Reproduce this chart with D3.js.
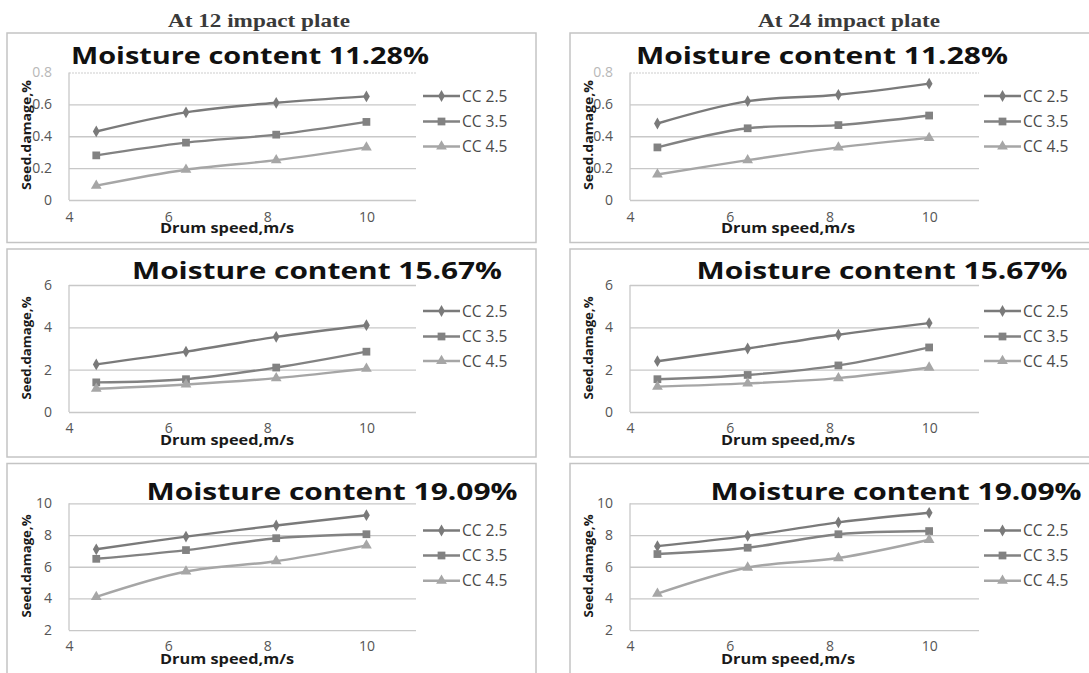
<!DOCTYPE html>
<html>
<head>
<meta charset="utf-8">
<script src="https://cdn.jsdelivr.net/npm/d3@7"></script>
<style>
  body { margin: 0; background: #fff; }
  svg { display: block; }
  text { font-family: "Open Sans", sans-serif; }
</style>
</head>
<body>
<svg width="1089" height="673"></svg>
<script>
// drum speeds (m/s) used on every panel
const speeds = [4.55, 6.36, 8.18, 10];
const seriesNames = ["CC 2.5", "CC 3.5", "CC 4.5"];
const plateTitles = ["At 12 impact plate", "At 24 impact plate"];
const moistureTitles = ["Moisture content 11.28%", "Moisture content 15.67%", "Moisture content 19.09%"];
const xTicks = [4, 6, 8, 10];
const yTicks11 = [0, 0.2, 0.4, 0.6, 0.8];
const yTicks15 = [0, 2, 4, 6];
const yTicks19 = [2, 4, 6, 8, 10];

// seed damage % : rows = CC 2.5, CC 3.5, CC 4.5
const plate12_m11 = [[0.43, 0.55, 0.61, 0.65], [0.28, 0.36, 0.41, 0.49], [0.09, 0.19, 0.25, 0.33]];
const plate24_m11 = [[0.48, 0.62, 0.66, 0.73], [0.33, 0.45, 0.47, 0.53], [0.16, 0.25, 0.33, 0.39]];
const plate12_m15 = [[2.25, 2.85, 3.55, 4.1], [1.4, 1.55, 2.1, 2.85], [1.1, 1.3, 1.6, 2.05]];
const plate24_m15 = [[2.4, 3.0, 3.65, 4.2], [1.55, 1.75, 2.2, 3.05], [1.2, 1.35, 1.6, 2.1]];
const plate12_m19 = [[7.1, 7.9, 8.6, 9.25], [6.5, 7.05, 7.8, 8.05], [4.1, 5.7, 6.35, 7.35]];
const plate24_m19 = [[7.3, 7.95, 8.8, 9.4], [6.8, 7.2, 8.05, 8.25], [4.3, 5.95, 6.55, 7.7]];

const colors = ["#7a7a7a", "#828282", "#a6a6a6"];
const symbols = [d3.symbolDiamond, d3.symbolSquare, d3.symbolTriangle];
const symSize = [40, 60, 50];

// layout of the two columns and three rows
const cols = [
  { x0: 69, x1: 416, box: 7, legX: 423, yLab: 26, header: 259 },
  { x0: 630, x1: 979, box: 570, legX: 984, yLab: 588, header: 849 }
];
const rows = [
  { top: 72.5, bottom: 200, boxTop: 33, boxBottom: 242.5, titleY: 64, legY: [96, 121.5, 146.5], tickY: 226, xTitleY: 233, yLabY: 135, ticks: yTicks11, faintTop: true },
  { top: 285, bottom: 412, boxTop: 249, boxBottom: 457, titleY: 279, legY: [311, 336.5, 361], tickY: 437, xTitleY: 445, yLabY: 348, ticks: yTicks15 },
  { top: 503.3, bottom: 630.2, boxTop: 463.5, boxBottom: 700, titleY: 500, legY: [530.5, 555.5, 580.7], tickY: 655, xTitleY: 663.5, yLabY: 566, ticks: yTicks19 }
];
const titleCenters = [[250, 822], [317, 882], [332, 896]];
const titleWidths = [[358, 372], [370, 371], [371, 371]];

const panels = [
  [plate12_m11, plate24_m11],
  [plate12_m15, plate24_m15],
  [plate12_m19, plate24_m19]
];

const svg = d3.select("svg");

// column headers
plateTitles.forEach((t, c) => {
  svg.append("text")
    .attr("x", cols[c].header).attr("y", 27)
    .attr("text-anchor", "middle")
    .attr("textLength", 182).attr("lengthAdjust", "spacingAndGlyphs")
    .style("font-family", "'Liberation Serif', serif")
    .style("font-weight", "bold").style("font-size", "19px")
    .attr("fill", "#3a3a3a")
    .text(t);
});

rows.forEach((r, ri) => {
  cols.forEach((c, ci) => {
    const data = panels[ri][ci];
    const g = svg.append("g");

    // chart frame
    g.append("rect")
      .attr("x", c.box).attr("y", r.boxTop)
      .attr("width", ci === 0 ? 529 : 540)
      .attr("height", r.boxBottom - r.boxTop)
      .attr("fill", "none").attr("stroke", "#c4c4c4").attr("stroke-width", 1.5);

    const x = d3.scaleLinear().domain([4, 11]).range([c.x0, c.x1]);
    const y = d3.scaleLinear().domain(d3.extent(r.ticks)).range([r.bottom, r.top]);

    // y axis with gridlines
    const ya = g.append("g")
      .attr("transform", `translate(${c.x0},0)`)
      .call(d3.axisLeft(y).tickValues(r.ticks).tickSize(-(c.x1 - c.x0)).tickPadding(17).tickFormat(d3.format("")));
    ya.select(".domain").remove();
    ya.selectAll(".tick line").attr("stroke", "#c8c8c8").attr("stroke-width", 1.3);
    ya.selectAll(".tick text")
      .attr("fill", "#555").style("font-size", "14px").style("font-family", "'Open Sans', sans-serif");
    if (r.faintTop) {
      const last = r.ticks[r.ticks.length - 1];
      ya.selectAll(".tick").filter(d => d === last)
        .call(t => t.select("line").attr("stroke", "#dedede").attr("stroke-dasharray", "2,1"))
        .call(t => t.select("text").attr("fill", "#b8b8b8"));
    }
    // left axis line
    g.append("line")
      .attr("x1", c.x0).attr("x2", c.x0).attr("y1", r.top).attr("y2", r.bottom)
      .attr("stroke", "#c8c8c8").attr("stroke-width", 1.3);

    // x tick labels
    const xa = g.append("g")
      .attr("transform", `translate(0,${r.tickY - 14})`)
      .call(d3.axisBottom(x).tickValues(xTicks).tickSize(0).tickPadding(0).tickFormat(d3.format("d")));
    xa.select(".domain").remove();
    xa.selectAll(".tick text")
      .attr("fill", "#555").style("font-size", "14px").style("font-family", "'Open Sans', sans-serif");

    // series lines
    const line = d3.line()
      .x((d, i) => x(speeds[i]))
      .y(d => y(d))
      .curve(d3.curveCatmullRom.alpha(0.5));

    data.forEach((vals, si) => {
      g.append("path")
        .datum(vals)
        .attr("d", line)
        .attr("fill", "none")
        .attr("stroke", colors[si])
        .attr("stroke-width", 2.4);
      g.selectAll(null)
        .data(vals)
        .enter()
        .append("path")
        .attr("transform", (d, i) => `translate(${x(speeds[i])},${y(d)})`)
        .attr("d", d3.symbol().type(symbols[si]).size(symSize[si]))
        .attr("fill", colors[si]);
    });

    // legend
    seriesNames.forEach((name, si) => {
      const ly = r.legY[si];
      g.append("line")
        .attr("x1", c.legX).attr("x2", c.legX + 37)
        .attr("y1", ly).attr("y2", ly)
        .attr("stroke", colors[si]).attr("stroke-width", 2.4);
      g.append("path")
        .attr("transform", `translate(${c.legX + 18.5},${ly})`)
        .attr("d", d3.symbol().type(symbols[si]).size(symSize[si]))
        .attr("fill", colors[si]);
      g.append("text")
        .attr("x", c.legX + 39).attr("y", ly).attr("dy", "0.36em")
        .attr("fill", "#4a4a4a").style("font-size", "15.5px")
        .text(name);
    });

    // chart title
    g.append("text")
      .attr("x", titleCenters[ri][ci]).attr("y", r.titleY)
      .attr("text-anchor", "middle")
      .attr("textLength", titleWidths[ri][ci]).attr("lengthAdjust", "spacingAndGlyphs")
      .style("font-weight", "bold").style("font-size", "24px")
      .attr("fill", "#111")
      .text(moistureTitles[ri]);

    // axis titles
    g.append("text")
      .attr("x", c.x0 + 158).attr("y", r.xTitleY)
      .attr("text-anchor", "middle")
      .attr("textLength", 134).attr("lengthAdjust", "spacingAndGlyphs")
      .style("font-weight", "bold").style("font-size", "14px")
      .attr("fill", "#1a1a1a")
      .text("Drum speed,m/s");

    g.append("text")
      .attr("transform", `translate(${c.yLab},${r.yLabY}) rotate(-90)`)
      .attr("text-anchor", "middle").attr("dy", "0.35em")
      .attr("textLength", ri === 0 ? 110 : 103).attr("lengthAdjust", "spacingAndGlyphs")
      .style("font-weight", "bold").style("font-size", "13px")
      .attr("fill", "#1a1a1a")
      .text("Seed.damage,%");
  });
});
</script>
</body>
</html>
